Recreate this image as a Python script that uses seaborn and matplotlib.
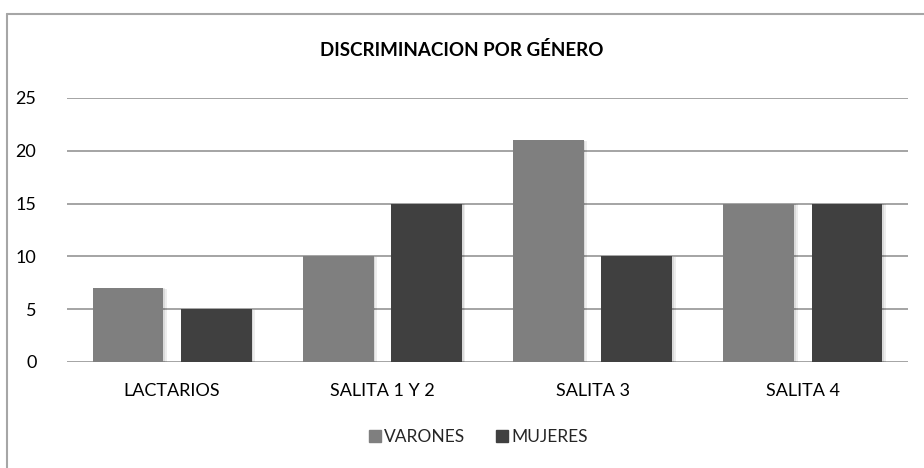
import pandas as pd
import matplotlib
matplotlib.use('Agg')
import matplotlib.pyplot as plt
import matplotlib.patheffects as pe
from matplotlib.lines import Line2D
import seaborn as sns

# data
categories = ['LACTARIOS', 'SALITA 1 Y 2', 'SALITA 3', 'SALITA 4']
varones = [7, 10, 21, 15]
mujeres = [5, 15, 10, 15]
series_names = ['VARONES', 'MUJERES']
series_colors = ['#7f7f7f', '#404040']
y_ticks = [0, 5, 10, 15, 20, 25]

df = pd.DataFrame({
    'categoria': categories * 2,
    'serie': [series_names[0]] * len(categories) + [series_names[1]] * len(categories),
    'valor': varones + mujeres,
})

sns.set_theme(style='white')
plt.rcParams['font.family'] = ['Lato', 'DejaVu Sans']

fig = plt.figure(figsize=(9.24, 4.68), dpi=100)
ax = fig.add_axes([67 / 924, 1 - 362 / 468, 841 / 924, 264 / 468])

sns.barplot(data=df, x='categoria', y='valor', hue='serie', order=categories,
            hue_order=series_names, palette=series_colors, width=0.84, gap=0.2,
            saturation=1, ax=ax, legend=False, zorder=3)

# soft shadow like the office chart
for bar in ax.patches:
    bar.set_linewidth(0)
    bar.set_path_effects([pe.SimplePatchShadow(offset=(2.5, -0.5), shadow_rgbFace='#000000', alpha=0.07),
                          pe.SimplePatchShadow(offset=(1.2, -0.3), shadow_rgbFace='#000000', alpha=0.08),
                          pe.Normal()])

ax.set_ylim(0, 25)
ax.set_xlim(-0.5, len(categories) - 0.5)
ax.set_yticks(y_ticks)
ax.yaxis.grid(True, color='#8c8c8c', linewidth=1.1, zorder=0)
ax.set_axisbelow(True)
for s in ax.spines.values():
    s.set_visible(False)
ax.tick_params(axis='both', length=0, labelsize=13, colors='#000000')
ax.tick_params(axis='y', pad=22)
ax.tick_params(axis='x', pad=15)
ax.set_xlabel('')
ax.set_ylabel('')

fig.text(0.5, 1 - 50 / 468, 'DISCRIMINACION POR GÉNERO', ha='center', va='center',
         fontsize=13.5, fontweight='bold', color='#000000')

handles = [Line2D([], [], marker='s', linestyle='', markersize=9, color=c) for c in series_colors]
fig.legend(handles, series_names, loc='center', bbox_to_anchor=(477 / 924, 1 - 437 / 468),
           ncol=2, frameon=False, fontsize=12.5, handletextpad=0.05, columnspacing=1.6,
           handlelength=1.0)

# outer chart frame (top and left edges visible)
fig.add_artist(Line2D([7.5 / 924, 1.0], [1 - 13.5 / 468, 1 - 13.5 / 468], color='#a6a6a6',
                      linewidth=1.5, transform=fig.transFigure))
fig.add_artist(Line2D([7.5 / 924, 7.5 / 924], [0, 1 - 13.5 / 468], color='#a6a6a6',
                      linewidth=1.5, transform=fig.transFigure))

fig.savefig('out.png', dpi=100)
